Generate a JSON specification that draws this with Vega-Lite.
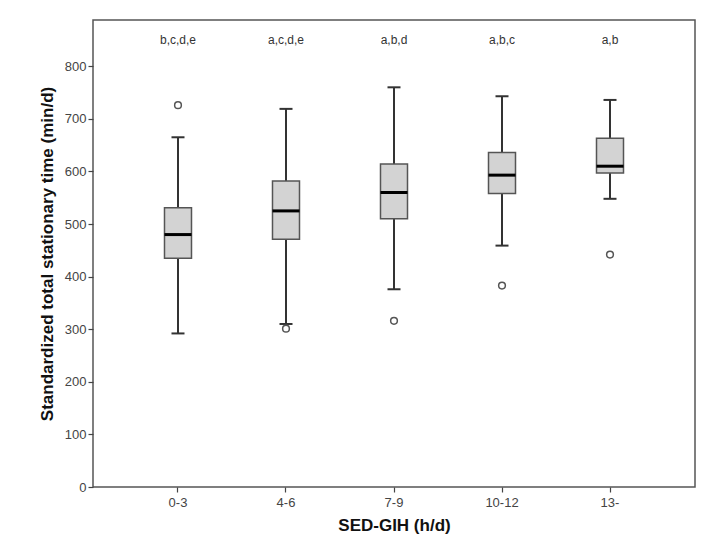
{
  "$schema": "https://vega.github.io/schema/vega-lite/v6.json",
  "autosize": "none",
  "width": 602,
  "height": 467,
  "padding": {"left": 93, "top": 20, "right": 19, "bottom": 59},
  "background": "white",
  "config": {
    "view": {"stroke": "#555", "strokeWidth": 1.5},
    "font": "Liberation Sans",
    "axis": {"grid": false, "domain": false, "tickColor": "#444", "tickWidth": 1.2, "tickSize": 5, "labelColor": "#444", "labelFontSize": 13, "titleFontSize": 17, "titleFontWeight": "bold", "titleColor": "#111", "labelFont": "Liberation Sans", "titleFont": "Liberation Sans"}
  },
  "datasets": {
    "stats": [
      {"group": "0-3", "lo": 292, "q1": 435, "med": 480, "q3": 531, "hi": 665, "label": "b,c,d,e", "ly": 850},
      {"group": "4-6", "lo": 310, "q1": 471, "med": 525, "q3": 582, "hi": 719, "label": "a,c,d,e", "ly": 850},
      {"group": "7-9", "lo": 376, "q1": 510, "med": 560, "q3": 614, "hi": 760, "label": "a,b,d", "ly": 850},
      {"group": "10-12", "lo": 459, "q1": 558, "med": 593, "q3": 636, "hi": 743, "label": "a,b,c", "ly": 850},
      {"group": "13-", "lo": 548, "q1": 597, "med": 610, "q3": 663, "hi": 736, "label": "a,b", "ly": 850}
    ],
    "outliers": [
      {"group": "0-3", "value": 726},
      {"group": "4-6", "value": 301},
      {"group": "7-9", "value": 316},
      {"group": "10-12", "value": 383},
      {"group": "13-", "value": 442}
    ]
  },
  "encoding": {
    "x": {
      "field": "group", "type": "nominal",
      "sort": ["0-3", "4-6", "7-9", "10-12", "13-"],
      "scale": {"type": "band", "paddingInner": 0.75, "paddingOuter": 0.662},
      "axis": {"title": "SED-GIH (h/d)", "labelAngle": 0, "labelPadding": 4, "titlePadding": 8}
    }
  },
  "layer": [
    {
      "data": {"name": "stats"},
      "mark": {"type": "rule", "color": "#333", "strokeWidth": 2},
      "encoding": {
        "y": {"field": "lo", "type": "quantitative",
          "scale": {"domain": [0, 888], "nice": false, "zero": true},
          "axis": {"title": "Standardized total stationary time (min/d)", "values": [0, 100, 200, 300, 400, 500, 600, 700, 800], "labelPadding": 2, "titlePadding": 8}},
        "y2": {"field": "hi"}
      }
    },
    {
      "data": {"name": "stats"},
      "mark": {"type": "bar", "fill": "#d3d3d3", "stroke": "#555", "strokeWidth": 1.5},
      "encoding": {
        "y": {"field": "q1", "type": "quantitative"},
        "y2": {"field": "q3"}
      }
    },
    {
      "data": {"name": "stats"},
      "mark": {"type": "tick", "color": "#000", "thickness": 3, "size": 27, "opacity": 1},
      "encoding": {"y": {"field": "med", "type": "quantitative"}}
    },
    {
      "data": {"name": "stats"},
      "mark": {"type": "tick", "color": "#333", "thickness": 2, "size": 13, "opacity": 1},
      "encoding": {"y": {"field": "hi", "type": "quantitative"}}
    },
    {
      "data": {"name": "stats"},
      "mark": {"type": "tick", "color": "#333", "thickness": 2, "size": 13, "opacity": 1},
      "encoding": {"y": {"field": "lo", "type": "quantitative"}}
    },
    {
      "data": {"name": "outliers"},
      "mark": {"type": "point", "shape": "circle", "filled": false, "color": "#555", "strokeWidth": 1.5, "size": 45, "opacity": 1},
      "encoding": {"y": {"field": "value", "type": "quantitative"}}
    },
    {
      "data": {"name": "stats"},
      "mark": {"type": "text", "fontSize": 12, "color": "#333", "font": "Liberation Sans"},
      "encoding": {
        "y": {"field": "ly", "type": "quantitative"},
        "text": {"field": "label"}
      }
    }
  ]
}
